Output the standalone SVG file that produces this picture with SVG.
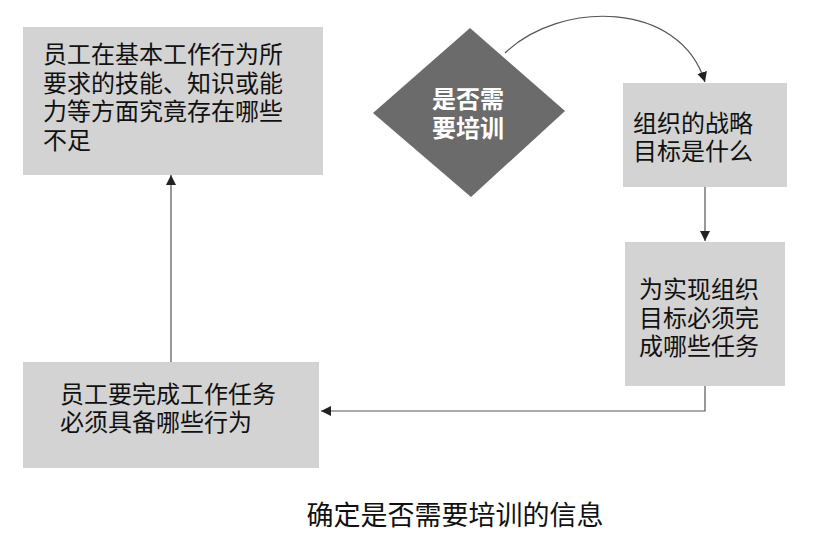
<svg xmlns="http://www.w3.org/2000/svg" width="814" height="540" viewBox="0 0 814 540">
<defs>
<style>
.box{fill:#d3d3d3;}
.t{font-family:"Liberation Serif","Noto Sans CJK SC",serif;font-size:24px;fill:#111;}
.d{font-family:"Liberation Sans","Noto Sans CJK SC",sans-serif;font-size:24px;font-weight:bold;fill:#fff;}
.cap{font-family:"Liberation Serif","Noto Sans CJK SC",serif;font-size:27px;fill:#111;}
.c{fill:none;stroke:#555;stroke-width:1.2;}
</style>
<marker id="ah" viewBox="0 0 10 10" refX="10" refY="5" markerWidth="10" markerHeight="10" markerUnits="userSpaceOnUse" orient="auto">
<path d="M0,0 L10,5 L0,10 Z" fill="#222"/>
</marker>
</defs>
<g id="connectors">
<path class="c" d="M505,53 C560,0 680,0 705,82" marker-end="url(#ah)"/>
<path class="c" d="M705,187 L705,241" marker-end="url(#ah)"/>
<path class="c" d="M705,386 L705,411 L321,411" marker-end="url(#ah)"/>
<path class="c" d="M171,362 L171,175" marker-end="url(#ah)"/>
</g>
<g id="node-skills">
<rect class="box" x="23" y="27" width="300" height="148"/>
<text class="t" x="43" y="63"><tspan x="43" y="63">员工在基本工作行为所</tspan><tspan x="43" y="92">要求的技能、知识或能</tspan><tspan x="43" y="120">力等方面究竟存在哪些</tspan><tspan x="43" y="149">不足</tspan></text>
</g>
<g id="node-decision">
<polygon points="470,28 565,111 471,197 373,113" fill="#6b6b6b"/>
<text class="d" x="468" y="108" text-anchor="middle"><tspan x="468" y="108">是否需</tspan><tspan x="468" y="137">要培训</tspan></text>
</g>
<g id="node-goal">
<rect class="box" x="623" y="83" width="164" height="104"/>
<text class="t" x="633" y="132"><tspan x="633" y="132">组织的战略</tspan><tspan x="633" y="160">目标是什么</tspan></text>
</g>
<g id="node-tasks">
<rect class="box" x="625" y="242" width="160" height="144"/>
<text class="t" x="639" y="298"><tspan x="639" y="298">为实现组织</tspan><tspan x="639" y="327">目标必须完</tspan><tspan x="639" y="355">成哪些任务</tspan></text>
</g>
<g id="node-behaviour">
<rect class="box" x="23" y="362" width="296" height="106"/>
<text class="t" x="60" y="403"><tspan x="60" y="403">员工要完成工作任务</tspan><tspan x="60" y="431">必须具备哪些行为</tspan></text>
</g>
<text class="cap" x="455" y="525" text-anchor="middle">确定是否需要培训的信息</text>
</svg>
